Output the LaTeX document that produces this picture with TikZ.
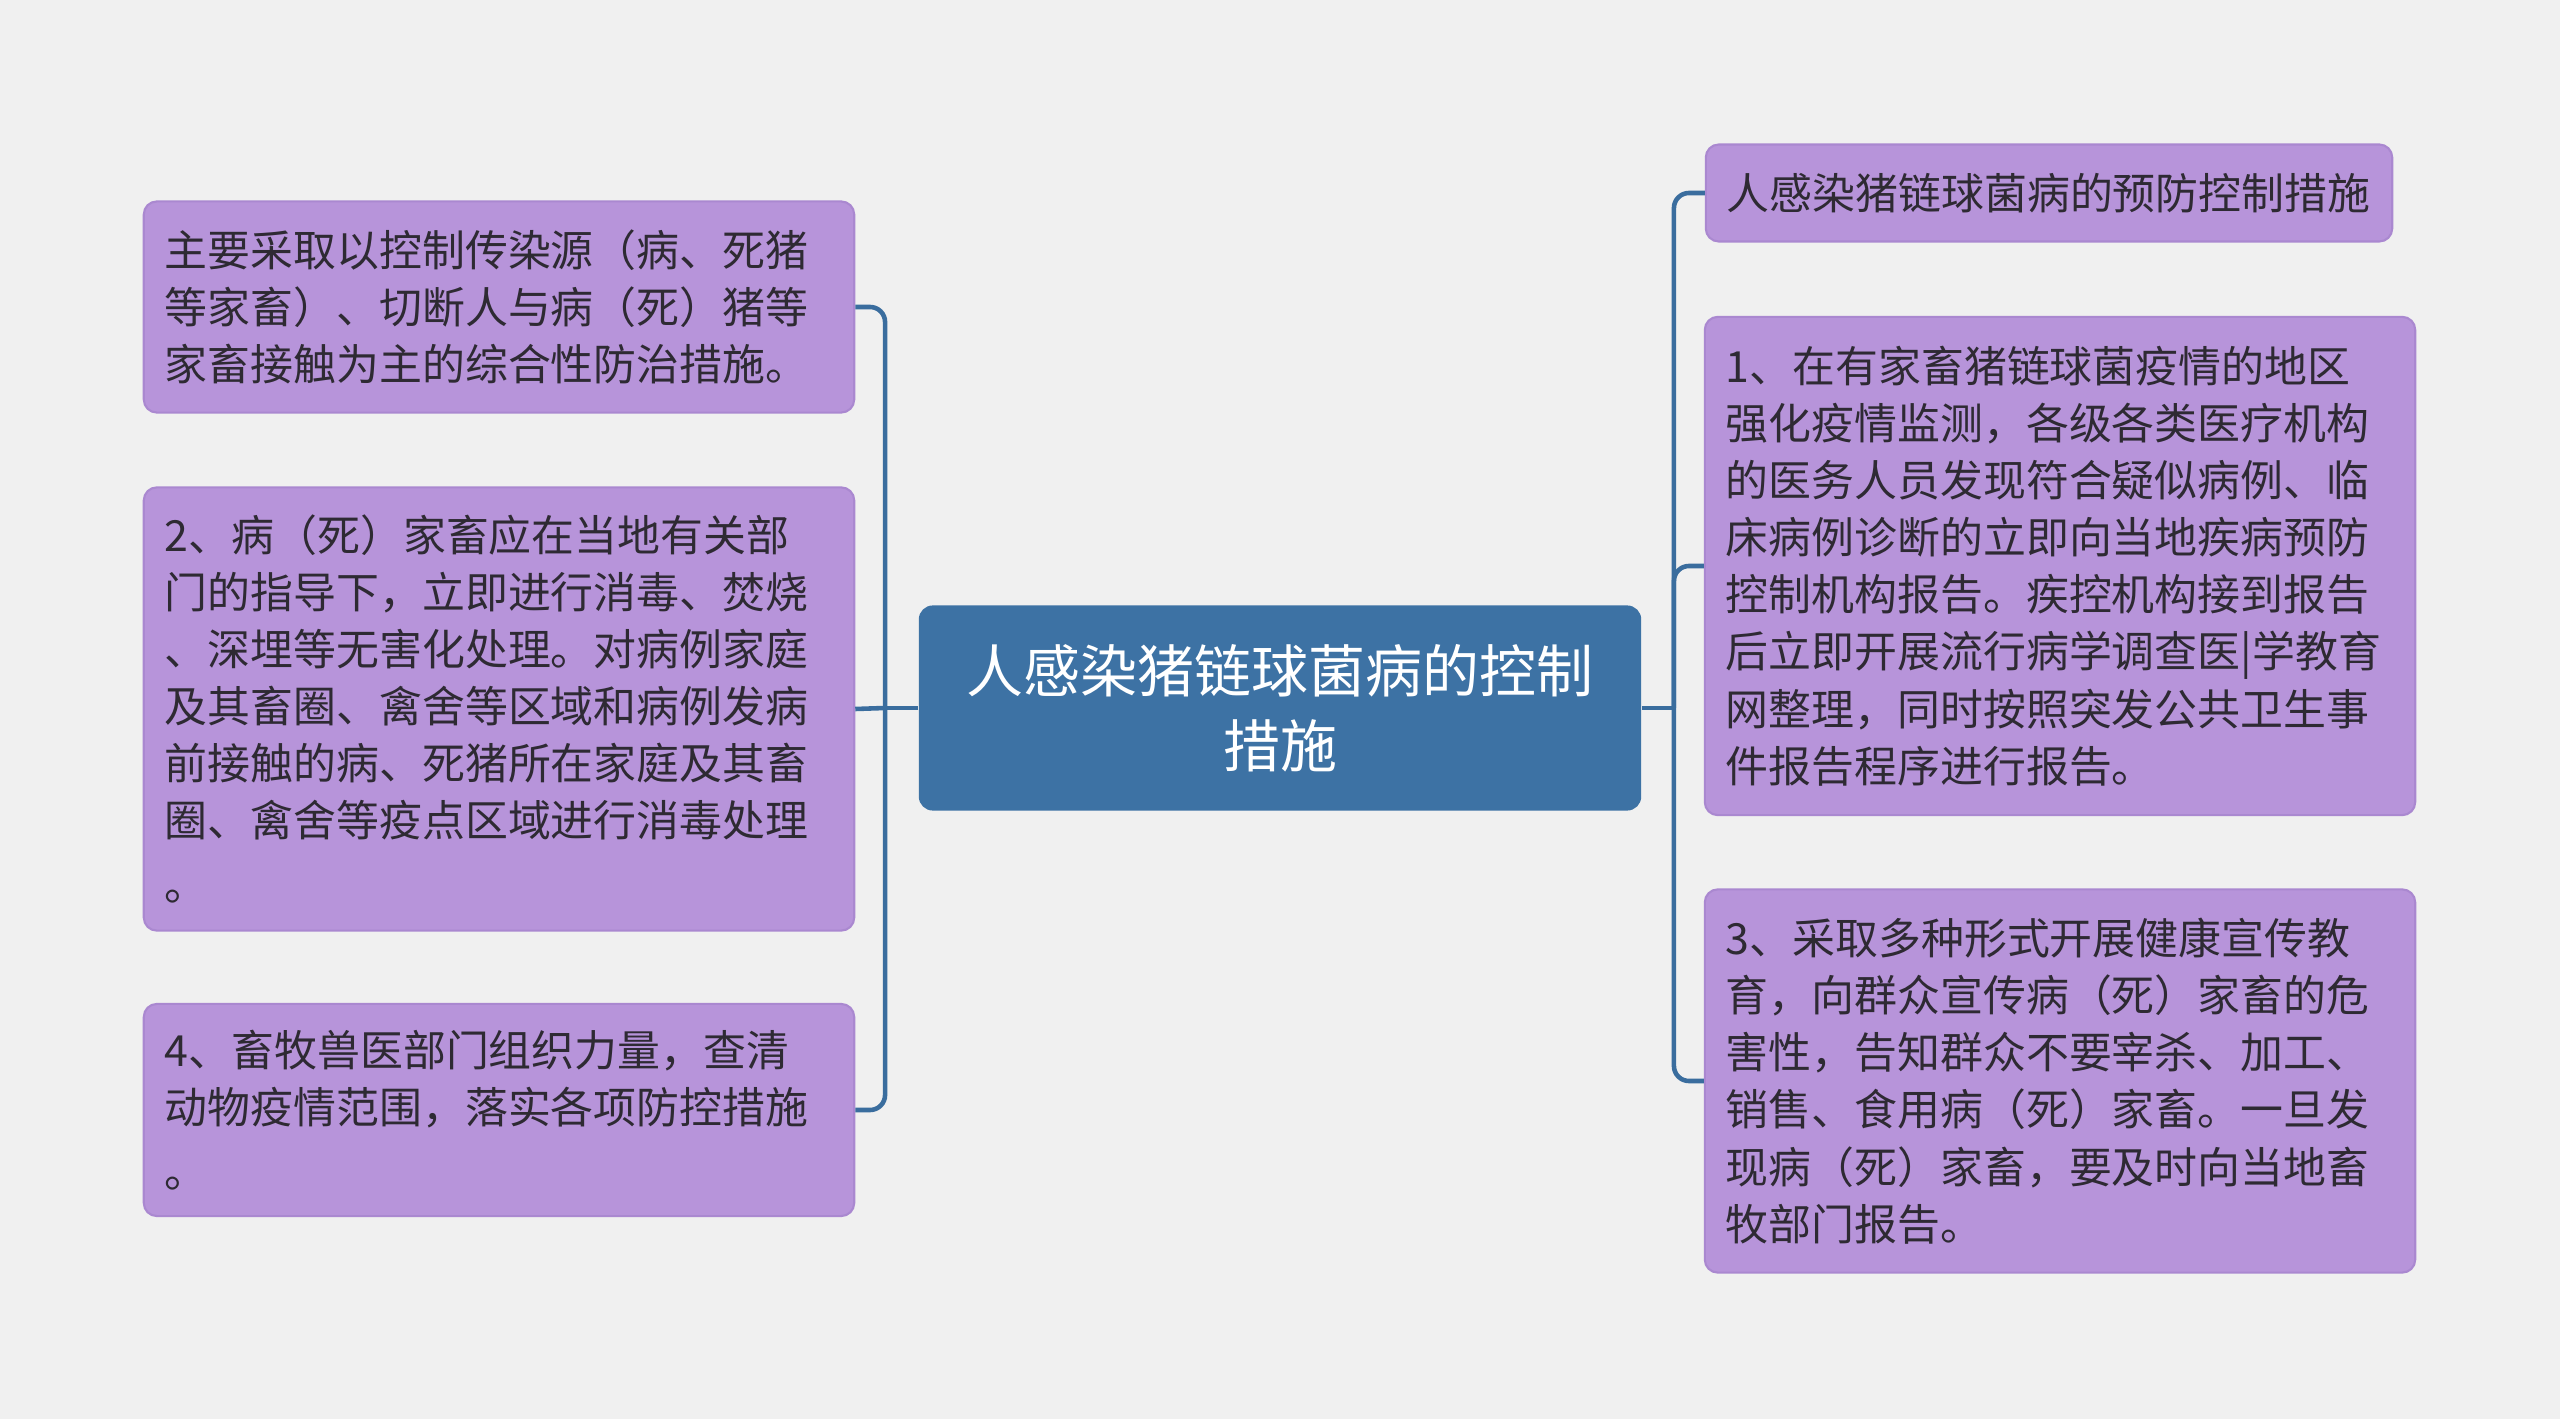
\documentclass[tikz,border=0pt]{standalone}
\usepackage{fontspec}
\newfontfamily\cjk{Noto Sans CJK SC}
\usepackage{xcolor}
\usepackage{tikz}
\usetikzlibrary{positioning}

\definecolor{bgcol}{HTML}{F0F0F0}
\definecolor{leafcol}{HTML}{B794DA}
\definecolor{leafline}{HTML}{AA88D0}
\definecolor{rootcol}{HTML}{3D72A4}
\definecolor{linkcol}{HTML}{3A6D9E}
\definecolor{txtcol}{HTML}{2E2A33}

\begin{document}
\begin{tikzpicture}[x=0.01cm, y=-0.01cm]

\tikzstyle{root} = [rectangle, rounded corners=0.14cm, minimum width=7.22cm, minimum height=2.05cm, fill=rootcol, text=white, align=center, font=\cjk\fontsize{16.2pt}{21.3pt}\selectfont]
\tikzstyle{leaf} = [rectangle, rounded corners=0.13cm, draw=leafline, line width=0.6pt, fill=leafcol, text=txtcol, align=left, inner xsep=0.21cm, text width=6.68cm, font=\cjk\fontsize{12.2pt}{16.25pt}\selectfont]
\tikzstyle{link} = [draw=linkcol, line width=1.3pt, rounded corners=0.15cm]

\fill[bgcol] (0,0) rectangle (2560,1419);
\useasboundingbox (0,0) rectangle (2560,1419);

\node (main) [root] at (1280,708) {人感染猪链球菌病的控制\\措施};

% left branch
\node (l1) [leaf, minimum height=2.11cm] at (499,307) {主要采取以控制传染源（病、死猪\\等家畜）、切断人与病（死）猪等\\家畜接触为主的综合性防治措施。};
\node (l2) [leaf, minimum height=4.43cm] at (499,709) {2、病（死）家畜应在当地有关部\\门的指导下，立即进行消毒、焚烧\\、深埋等无害化处理。对病例家庭\\及其畜圈、禽舍等区域和病例发病\\前接触的病、死猪所在家庭及其畜\\圈、禽舍等疫点区域进行消毒处理\\[2pt]。};
\node (l3) [leaf, minimum height=2.12cm] at (499,1110) {4、畜牧兽医部门组织力量，查清\\动物疫情范围，落实各项防控措施\\[2pt]。};

% right branch
\node (r0) [leaf, text width=6.44cm, minimum height=0.97cm] at (2049,193) {人感染猪链球菌病的预防控制措施};
\node (r1) [leaf, minimum height=4.98cm] at (2060,566) {1、在有家畜猪链球菌疫情的地区\\强化疫情监测，各级各类医疗机构\\的医务人员发现符合疑似病例、临\\床病例诊断的立即向当地疾病预防\\控制机构报告。疾控机构接到报告\\后立即开展流行病学调查医|学教育\\网整理，同时按照突发公共卫生事\\件报告程序进行报告。};
\node (r2) [leaf, minimum height=3.83cm] at (2060,1081) {3、采取多种形式开展健康宣传教\\育，向群众宣传病（死）家畜的危\\害性，告知群众不要宰杀、加工、\\销售、食用病（死）家畜。一旦发\\现病（死）家畜，要及时向当地畜\\牧部门报告。};

\coordinate (lj) at ([xshift=-0.33cm]main.west);
\coordinate (rj) at ([xshift=0.32cm]main.east);

\draw [link] (main.west) -- (lj);
\draw [link] (l1.east) -| (lj);
\draw [link] (l2.east) -- (lj);
\draw [link] (l3.east) -| (lj);

\draw [link] (main.east) -- (rj);
\draw [link] (r0.west) -| (rj);
\draw [link] (r1.west) -| (rj);
\draw [link] (r2.west) -| (rj);

\end{tikzpicture}
\end{document}
